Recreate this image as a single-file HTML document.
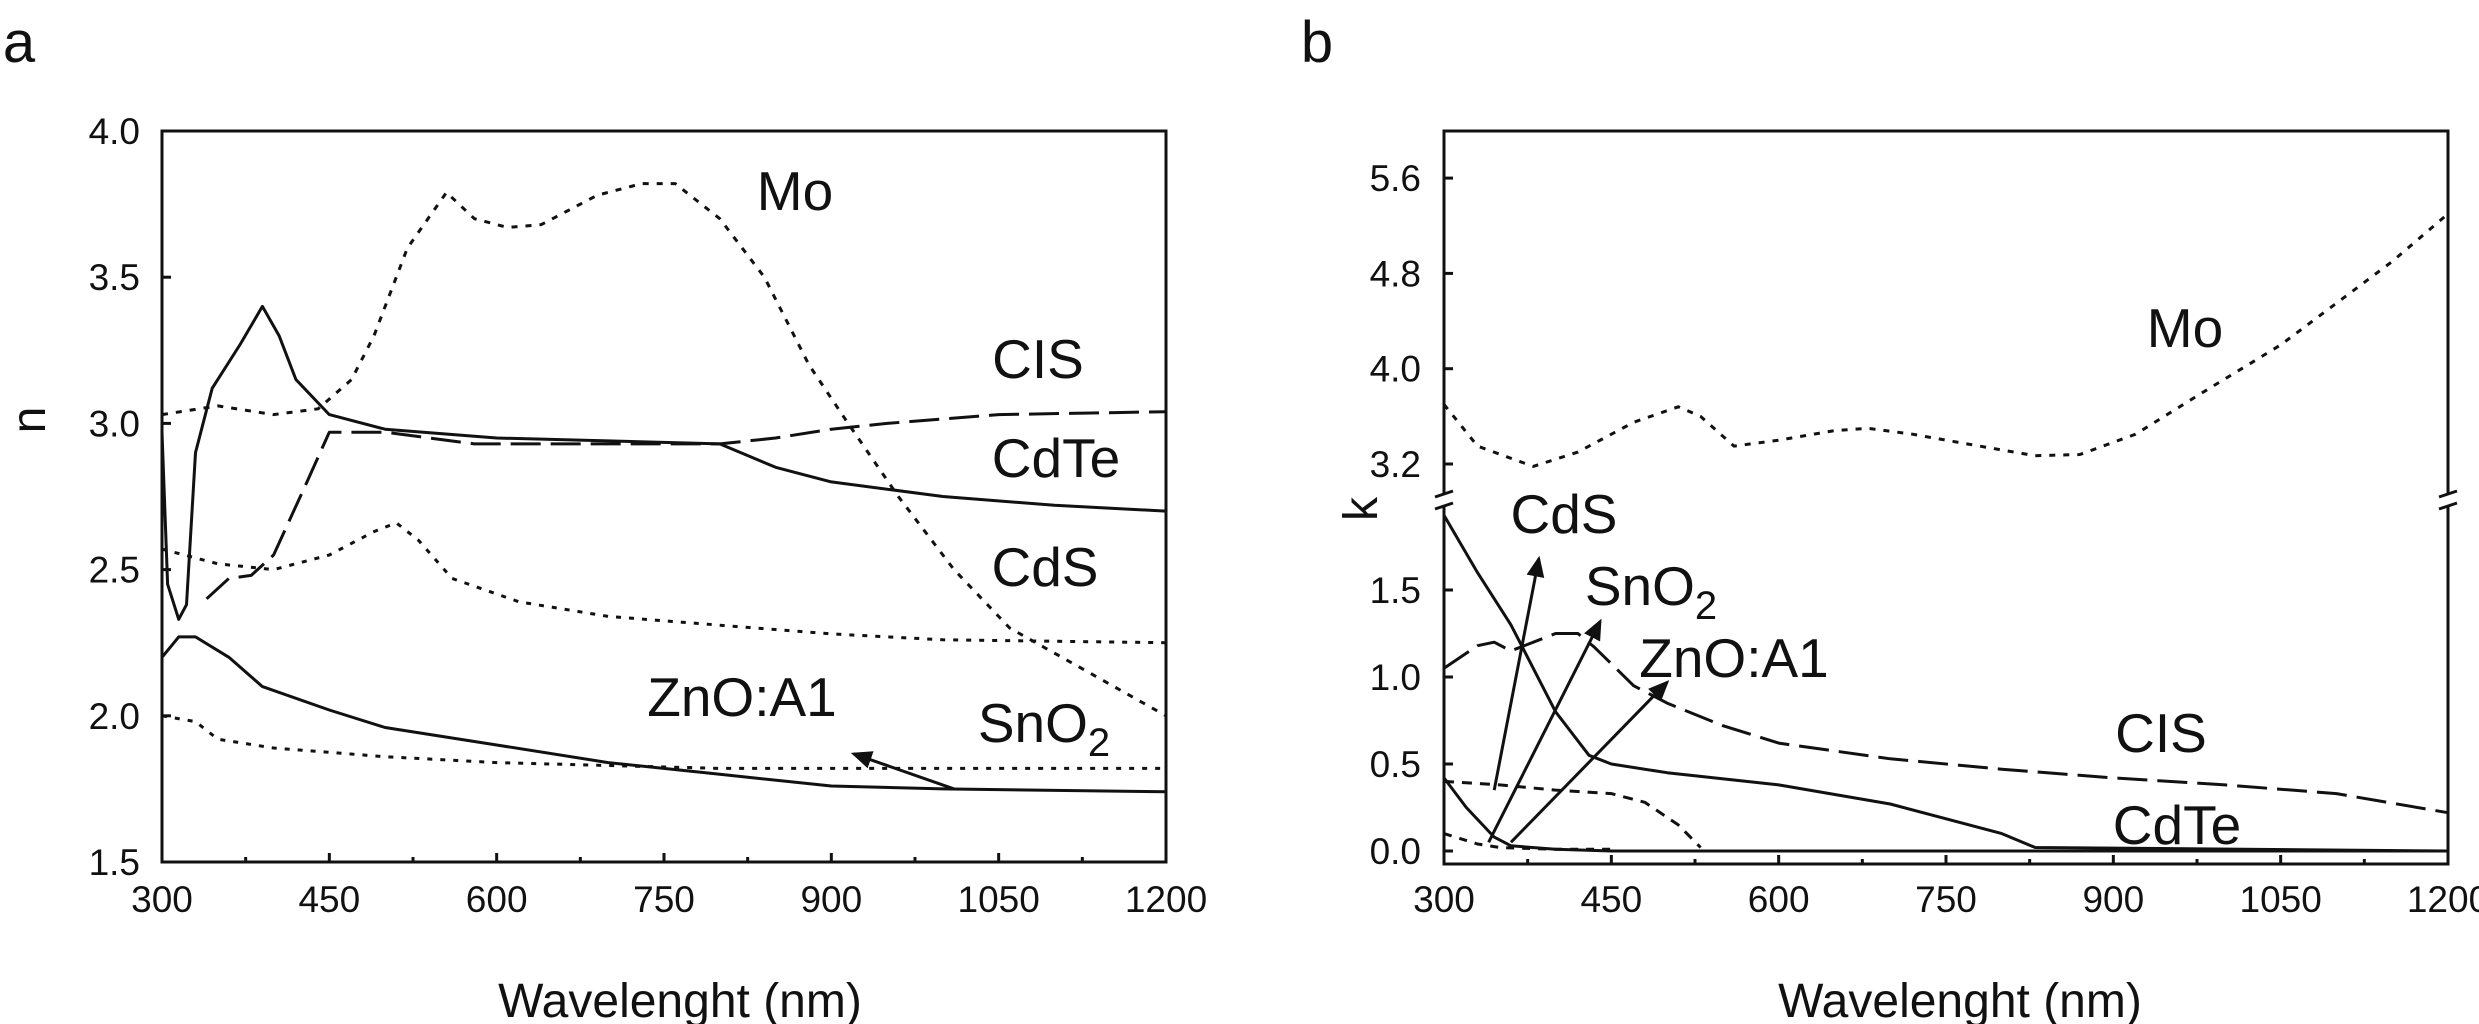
<!DOCTYPE html>
<html><head><meta charset="utf-8"><style>
html,body{margin:0;padding:0;background:#fff;}
svg{display:block;font-family:"Liberation Sans",sans-serif;}
</style></head><body>
<svg id="chart" width="2479" height="1024" viewBox="0 0 2479 1024" xmlns="http://www.w3.org/2000/svg">
<defs>
<marker id="ah" markerWidth="8" markerHeight="8" refX="6" refY="4" orient="auto" markerUnits="strokeWidth"><path d="M0,1 L7,4 L0,7 Z" fill="#111"/></marker>
</defs>
<g id="pa"></g>
<g id="pb"></g>
</svg>
<script>
// ---- Panel a data (n) ----
const xTicks = [300,450,600,750,900,1050,1200];
const nTicks = [1.5,2.0,2.5,3.0,3.5,4.0];
const moN_x = [300,350,400,440,470,490,520,555,580,610,640,690,730,760,800,840,880,915,960,1010,1060,1130,1200];
const moN_y = [3.03,3.06,3.03,3.05,3.15,3.3,3.6,3.79,3.7,3.67,3.68,3.78,3.82,3.82,3.7,3.5,3.2,3.0,2.75,2.5,2.3,2.15,2.0];
const cisN_x = [340,360,380,400,430,450,500,580,700,800,850,900,950,1050,1200];
const cisN_y = [2.4,2.47,2.48,2.55,2.8,2.97,2.97,2.93,2.93,2.93,2.95,2.98,3.0,3.03,3.04];
const cdteN_x = [300,305,315,322,330,345,370,390,405,420,450,500,600,700,800,850,900,1000,1100,1200];
const cdteN_y = [2.97,2.45,2.33,2.38,2.9,3.12,3.27,3.4,3.3,3.15,3.03,2.98,2.95,2.94,2.93,2.85,2.8,2.75,2.72,2.7];
const cdsN_x = [300,350,400,450,490,510,530,560,620,700,800,900,1000,1200];
const cdsN_y = [2.57,2.52,2.5,2.55,2.63,2.66,2.6,2.47,2.39,2.34,2.31,2.28,2.26,2.25];
const znoN_x = [300,315,330,360,390,450,500,600,700,800,900,1000,1200];
const znoN_y = [2.2,2.27,2.27,2.2,2.1,2.02,1.96,1.9,1.84,1.8,1.76,1.75,1.74];
const sno2N_x = [300,330,350,400,500,600,700,800,1200];
const sno2N_y = [2.0,1.98,1.92,1.89,1.86,1.84,1.83,1.82,1.82];

// ---- Panel b data (k) ----
const kTicksLow = [0.0,0.5,1.0,1.5];
const kTicksHigh = [3.2,4.0,4.8,5.6];
const moK_x = [300,330,380,420,470,510,530,560,600,650,680,720,780,830,870,920,980,1050,1100,1150,1200];
const moK_y = [3.7,3.35,3.18,3.3,3.55,3.68,3.6,3.35,3.4,3.48,3.5,3.45,3.35,3.27,3.28,3.45,3.8,4.2,4.55,4.9,5.3];
const cisK_x = [300,330,345,360,400,420,435,470,500,550,600,700,800,900,1000,1100,1200];
const cisK_y = [1.05,1.18,1.2,1.15,1.25,1.25,1.17,0.95,0.85,0.72,0.62,0.53,0.47,0.42,0.38,0.33,0.22];
const cdteK_x = [300,330,360,400,430,450,500,600,700,800,830,1200];
const cdteK_y = [1.93,1.6,1.3,0.8,0.55,0.5,0.45,0.38,0.27,0.1,0.02,0.0];
const cdsK_x = [300,350,400,450,480,510,530];
const cdsK_y = [0.4,0.38,0.35,0.33,0.28,0.15,0.02];
const sno2K_x = [300,330,350,400,450];
const sno2K_y = [0.1,0.04,0.02,0.01,0.01];
const znoK_x = [300,320,345,360,400,450,1200];
const znoK_y = [0.42,0.25,0.08,0.03,0.01,0.0,0.0];

const NS = "http://www.w3.org/2000/svg";
function mk(parent, tag, attrs){const e=document.createElementNS(NS,tag);for(const k in attrs)e.setAttribute(k,attrs[k]);parent.appendChild(e);return e;}

const axL=162, axR=1166, ayT=131, ayB=862;
const xa = v => axL + (v-300)/900*(axR-axL);
const ya = v => ayB - (v-1.5)/2.5*(ayB-ayT);
const bxL=1444, bxR=2448, byT=131, byB=864;
const xb = v => bxL + (v-300)/900*(bxR-bxL);
const ybLow = v => 851 - v*174;
const ybHigh = v => 464 - (v-3.2)/0.8*95.3;

const pa=document.getElementById('pa'), pb=document.getElementById('pb');

function line(g, xs, ys, fx, fy, dash, name, w){
  const d = xs.map((x,i)=>(i?'L':'M')+fx(x).toFixed(1)+','+fy(ys[i]).toFixed(1)).join(' ');
  const p = mk(g,'path',{d:d,fill:'none',stroke:'#111','stroke-width':w||3,'stroke-dasharray':dash||'none','stroke-linejoin':'round'});
  
  
}
function txt(g, x, y, s, size, name, anchor){
  const t = mk(g,'text',{x:x,y:y,'font-size':size,'text-anchor':anchor||'middle',fill:'#111'});
  t.textContent = s;
  
  
  return t;
}
const TK=37, LB=55, TT=48;

// ---- Panel a ----
const fa = mk(pa,'rect',{x:axL,y:ayT,width:axR-axL,height:ayB-ayT,fill:'none',stroke:'#111','stroke-width':3});


xTicks.forEach((v,i)=>{
  mk(pa,'line',{x1:xa(v),x2:xa(v),y1:ayB,y2:ayB-9,stroke:'#111','stroke-width':3});
  if(i<xTicks.length-1) mk(pa,'line',{x1:xa(v+75),x2:xa(v+75),y1:ayB,y2:ayB-5,stroke:'#111','stroke-width':3});
  txt(pa, xa(v), 912, String(v), TK, 'x-tick-label-a');
});
nTicks.forEach(v=>{
  mk(pa,'line',{x1:axL,x2:axL+9,y1:ya(v),y2:ya(v),stroke:'#111','stroke-width':3});
  txt(pa, 140, ya(v)+13, v.toFixed(1), TK, 'y-tick-label-a', 'end');
});
txt(pa, 19, 62, 'a', 58, 'panel-label-a');
txt(pa, 680, 1017, 'Wavelenght (nm)', TT, 'x-axis-title-a');
const yta = txt(pa, 0, 0, 'n', TT, 'y-axis-title-a');
yta.setAttribute('transform','translate(45,420) rotate(-90)');

line(pa, moN_x, moN_y, xa, ya, '6,8', 'series-mo-n');
line(pa, cisN_x, cisN_y, xa, ya, '30,10', 'series-cis-n');
line(pa, cdteN_x, cdteN_y, xa, ya, null, 'series-cdte-n');
line(pa, cdsN_x, cdsN_y, xa, ya, '5,8', 'series-cds-n');
line(pa, znoN_x, znoN_y, xa, ya, null, 'series-zno-n');
line(pa, sno2N_x, sno2N_y, xa, ya, '5,8', 'series-sno2-n');
const arA = mk(pa,'line',{x1:xa(1010),y1:ya(1.75),x2:xa(920),y2:ya(1.87),stroke:'#111','stroke-width':3,'marker-end':'url(#ah)'});


txt(pa, 795, 210, 'Mo', LB, 'label-mo-a');
txt(pa, 1038, 378, 'CIS', LB, 'label-cis-a');
txt(pa, 1056, 477, 'CdTe', LB, 'label-cdte-a');
txt(pa, 1045, 586, 'CdS', LB, 'label-cds-a');
txt(pa, 742, 716, 'ZnO:A1', LB, 'label-zno-a');
const sa = txt(pa, 1044, 742, 'SnO', LB, 'label-sno2-a');
const sub = mk(sa,'tspan',{'font-size':40,dy:14}); sub.textContent='2';

// ---- Panel b ----
const brkY = 500;
const fb = mk(pb,'path',{d:`M${bxL},${brkY-6} V${byT} H${bxR} V${brkY-6} M${bxL},${brkY+6} V${byB} H${bxR} V${brkY+6}`,fill:'none',stroke:'#111','stroke-width':3});


[bxL,bxR].forEach(x=>{
  const br = mk(pb,'path',{d:`M${x-9},${brkY-3} L${x+9},${brkY-9} M${x-9},${brkY+9} L${x+9},${brkY+3}`,stroke:'#111','stroke-width':3,fill:'none'});
  
  
});
xTicks.forEach((v,i)=>{
  mk(pb,'line',{x1:xb(v),x2:xb(v),y1:byB,y2:byB-9,stroke:'#111','stroke-width':3});
  if(i<xTicks.length-1) mk(pb,'line',{x1:xb(v+75),x2:xb(v+75),y1:byB,y2:byB-5,stroke:'#111','stroke-width':3});
  txt(pb, xb(v), 912, String(v), TK, 'x-tick-label-b');
});
kTicksLow.forEach(v=>{
  mk(pb,'line',{x1:bxL,x2:bxL+9,y1:ybLow(v),y2:ybLow(v),stroke:'#111','stroke-width':3});
  txt(pb, 1421, ybLow(v)+13, v.toFixed(1), TK, 'y-tick-label-b', 'end');
});
kTicksHigh.forEach(v=>{
  mk(pb,'line',{x1:bxL,x2:bxL+9,y1:ybHigh(v),y2:ybHigh(v),stroke:'#111','stroke-width':3});
  txt(pb, 1421, ybHigh(v)+13, v.toFixed(1), TK, 'y-tick-label-b', 'end');
});
txt(pb, 1317, 62, 'b', 58, 'panel-label-b');
txt(pb, 1960, 1017, 'Wavelenght (nm)', TT, 'x-axis-title-b');
const ytb = txt(pb, 0, 0, 'k', TT, 'y-axis-title-b');
ytb.setAttribute('transform','translate(1377,509) rotate(-90)');

line(pb, moK_x, moK_y, xb, ybHigh, '6,8', 'series-mo-k');
line(pb, cisK_x, cisK_y, xb, ybLow, '30,10', 'series-cis-k');
line(pb, cdteK_x, cdteK_y, xb, ybLow, null, 'series-cdte-k');
line(pb, cdsK_x, cdsK_y, xb, ybLow, '10,8', 'series-cds-k');
line(pb, sno2K_x, sno2K_y, xb, ybLow, '8,8', 'series-sno2-k');
line(pb, znoK_x, znoK_y, xb, ybLow, null, 'series-zno-k');
[[345,0.35,385,1.68,'arrow-cds-b'],[340,0.05,440,1.32,'arrow-sno2-b'],[360,0.05,500,0.97,'arrow-zno-b']].forEach(a=>{
  const l = mk(pb,'line',{x1:xb(a[0]),y1:ybLow(a[1]),x2:xb(a[2]),y2:ybLow(a[3]),stroke:'#111','stroke-width':3,'marker-end':'url(#ah)'});
  
  
});
txt(pb, 2185, 347, 'Mo', LB, 'label-mo-b');
txt(pb, 1564, 533, 'CdS', LB, 'label-cds-b');
const sb = txt(pb, 1651, 605, 'SnO', LB, 'label-sno2-b');
const sub2 = mk(sb,'tspan',{'font-size':40,dy:14}); sub2.textContent='2';
txt(pb, 1734, 677, 'ZnO:A1', LB, 'label-zno-b');
txt(pb, 2161, 752, 'CIS', LB, 'label-cis-b');
txt(pb, 2177, 844, 'CdTe', LB, 'label-cdte-b');
</script>
</body></html>
